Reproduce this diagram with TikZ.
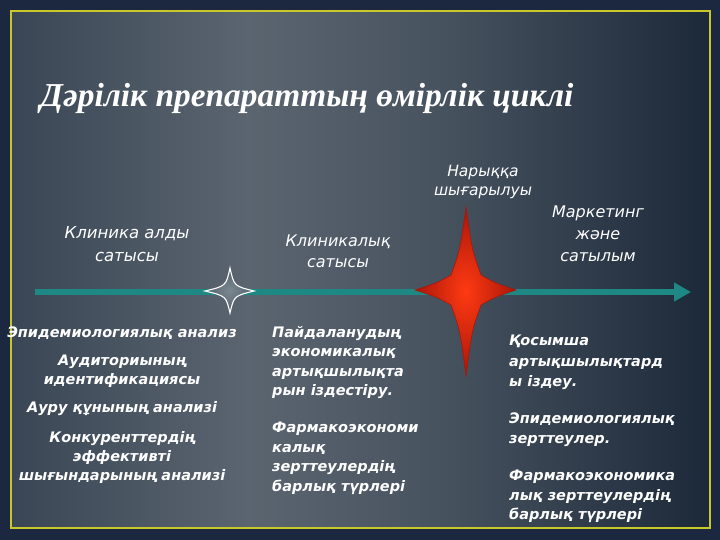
\documentclass[tikz,border=0pt]{standalone}
\usepackage{fontspec}
\setmainfont{DejaVu Sans}
\newfontfamily\titlefont{Liberation Serif}
\usetikzlibrary{arrows.meta}
\definecolor{outerbg}{HTML}{1C2840}
\definecolor{bgA}{HTML}{3A4655}
\definecolor{bgB}{HTML}{5B6570}
\definecolor{bgC}{HTML}{47525F}
\definecolor{bgD}{HTML}{1C2939}
\definecolor{frameY}{HTML}{C8C82A}
\definecolor{lineT}{HTML}{1E8884}
\definecolor{starR}{HTML}{FF3A12}
\definecolor{starRd}{HTML}{A8160A}
\definecolor{starG}{HTML}{7A8790}
\definecolor{starGd}{HTML}{55626C}
\pgfdeclarehorizontalshading{bgshade}{100bp}{color(0bp)=(bgA); color(25bp)=(bgA); color(42bp)=(bgB); color(56bp)=(bgC); color(75bp)=(bgD); color(100bp)=(bgD)}
\tikzset{
  hd/.style={text=white, align=center, inner sep=0pt, font=\fontsize{16.5}{23}\selectfont\itshape},
  lstc/.style={text=white, align=center, inner sep=0pt, font=\fontsize{14.5}{19}\selectfont\bfseries\itshape},
  lstl/.style={text=white, align=left, inner sep=0pt, anchor=north west, font=\fontsize{14.5}{19.5}\selectfont\bfseries\itshape},
  startwo/.style={draw=white, line width=1.1pt, shading=radial, inner color=starG, outer color=starGd},
  starone/.style={draw=starRd, line width=0.6pt, shading=radial, inner color=starR, outer color=starRd},
}
\begin{document}
\begin{tikzpicture}[x=1pt,y=-1pt]
\useasboundingbox (0,0) rectangle (720,540);
\fill[outerbg] (0,0) rectangle (720,540);
\shade[shading=bgshade] (11,11) rectangle (710,528);
\draw[frameY, line width=2pt] (11,11) rectangle (710,528);
% title
\node[anchor=base west, inner sep=0pt, text=white, font=\titlefont\fontsize{33.4}{38}\selectfont\bfseries\itshape] (title) at (40,107) {Дәрілік препараттың өмірлік циклі};
% timeline
\coordinate (t0) at (35,292);
\coordinate (t1) at (691,292);
\draw[lineT, line width=6pt, -{Triangle[width=18pt,length=17pt]}] (t0) -- (t1);
% white star
\coordinate (ws) at (230,291);
\path[startwo] (230,268) .. controls (234,286) .. (254,291) .. controls (234,296) .. (230,313) .. controls (226,296) .. (205,291) .. controls (226,286) .. cycle;
% red star
\coordinate (rs) at (466,290);
\path[starone] (466,207) .. controls (472,250) .. (481,275) .. controls (495,283) .. (516,290) .. controls (495,297) .. (481,305) .. controls (472,330) .. (466,376) .. controls (460,330) .. (451,305) .. controls (437,297) .. (415,290) .. controls (437,283) .. (451,275) .. controls (460,250) .. cycle;
% headings
\node[hd, font=\fontsize{15.5}{19}\selectfont\itshape] (market) at (483,182) {Нарыққа\\шығарылуы};
\node[hd] (preclin) at (127,244) {Клиника алды\\сатысы};
\node[hd, font=\fontsize{16}{21}\selectfont\itshape] (clin) at (338,251) {Клиникалық\\сатысы};
\node[hd, font=\fontsize{16}{22}\selectfont\itshape] (sales) at (598,234) {Маркетинг\\және\\сатылым};
% left column
\node[lstc] (l1) at (122,333) {Эпидемиологиялық анализ};
\node[lstc] (l2) at (122,371) {Аудиториының\\идентификациясы};
\node[lstc] (l3) at (122,409) {Ауру құнының анализі};
\node[lstc] (l4) at (122,457) {Конкуренттердің\\эффективті\\шығындарының анализі};
% middle column
\node[lstl] (m1) at (272,326) {Пайдаланудың\\экономикалық\\артықшылықта\\рын іздестіру.};
\node[lstl] (m2) at (272,422) {Фармакоэкономи\\калық\\зерттеулердің\\барлық түрлері};
% right column
\node[lstl, font=\fontsize{14.5}{20.5}\selectfont\bfseries\itshape] (r1) at (509,335) {Қосымша\\артықшылықтард\\ы іздеу.};
\node[lstl, font=\fontsize{14.5}{20}\selectfont\bfseries\itshape] (r2) at (509,413) {Эпидемиологиялық\\зерттеулер.};
\node[lstl, font=\fontsize{14.5}{19.5}\selectfont\bfseries\itshape] (r3) at (509,470) {Фармакоэкономика\\лық зерттеулердің\\барлық түрлері};
\end{tikzpicture}
\end{document}
